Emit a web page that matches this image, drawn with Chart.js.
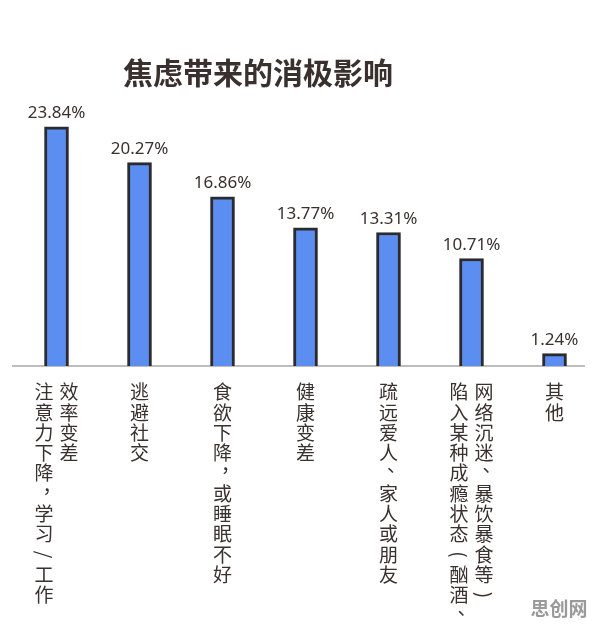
<!DOCTYPE html>
<html>
<head>
<meta charset="utf-8">
<script src="https://cdn.jsdelivr.net/npm/chart.js@4.4.1/dist/chart.umd.min.js"></script>
<style>
  html, body { margin: 0; padding: 0; background: #fff; }
</style>
</head>
<body>
<canvas id="anxietyChart" width="596" height="628"></canvas>
<script>
// 数据
const chartTitle = '焦虑带来的消极影响';
const categories = [
  '注意力下降，学习/工作效率变差',
  '逃避社交',
  '食欲下降，或睡眠不好',
  '健康变差',
  '疏远爱人、家人或朋友',
  '陷入某种成瘾状态(酗酒、网络沉迷、暴饮暴食等)',
  '其他'
];
// 竖排标签，每列一个字符串（从左到右）
const labelColumns = [
  ['注意力下降，学习/工作', '效率变差'],
  ['逃避社交'],
  ['食欲下降，或睡眠不好'],
  ['健康变差'],
  ['疏远爱人、家人或朋友'],
  ['陷入某种成瘾状态(酗酒、', '网络沉迷、暴饮暴食等)'],
  ['其他']
];
const values = [23.84, 20.27, 16.86, 13.77, 13.31, 10.71, 1.24];
const watermark = '思创网';

const textColor = '#3a302d';
const cjkFont = '"Noto Sans CJK SC", sans-serif';

// 底部基线
const baselinePlugin = {
  id: 'baseline',
  beforeDatasetsDraw(chart) {
    const ctx = chart.ctx;
    const y = chart.chartArea.bottom;
    ctx.save();
    ctx.strokeStyle = '#bdbdbd';
    ctx.lineWidth = 2;
    ctx.beginPath();
    ctx.moveTo(12, y);
    ctx.lineTo(585, y);
    ctx.stroke();
    ctx.restore();
  }
};

// 柱顶数值
const valueLabelPlugin = {
  id: 'valueLabels',
  afterDatasetsDraw(chart) {
    const ctx = chart.ctx;
    const meta = chart.getDatasetMeta(0);
    ctx.save();
    ctx.fillStyle = textColor;
    ctx.font = '17px "Noto Sans", sans-serif';
    ctx.textAlign = 'center';
    ctx.textBaseline = 'bottom';
    meta.data.forEach((bar, i) => {
      ctx.fillText(values[i].toFixed(2) + '%', bar.x, bar.y - 5);
    });
    ctx.restore();
  }
};

// 标题、竖排分类标签、水印
const textPlugin = {
  id: 'texts',
  afterDraw(chart) {
    const ctx = chart.ctx;
    const xScale = chart.scales.x;
    ctx.save();

    // 标题
    ctx.fillStyle = textColor;
    ctx.font = 'bold 30px ' + cjkFont;
    ctx.textAlign = 'center';
    ctx.textBaseline = 'middle';
    ctx.fillText(chartTitle, 258, 73);

    // 竖排标签
    const rotateChars = '/()（）';
    const punctChars = '，、';
    ctx.font = '19px ' + cjkFont;
    labelColumns.forEach((cols, i) => {
      const cx = xScale.getPixelForValue(i);
      const colGap = 25;
      const startX = cx - (cols.length - 1) * colGap / 2;
      cols.forEach((col, c) => {
        const x = startX + c * colGap;
        Array.from(col).forEach((ch, k) => {
          const y = 392 + k * 20.3;
          if (rotateChars.includes(ch)) {
            ctx.save();
            ctx.translate(x, y);
            ctx.rotate(Math.PI / 2);
            ctx.fillText(ch, 0, 0);
            ctx.restore();
          } else if (punctChars.includes(ch)) {
            // 竖排标点移到右上角
            ctx.fillText(ch, x + 8, y - 8);
          } else {
            ctx.fillText(ch, x, y);
          }
        });
      });
    });

    // 水印
    ctx.fillStyle = '#9a9a9a';
    ctx.font = 'bold 19px ' + cjkFont;
    ctx.fillText(watermark, 559, 609);
    ctx.restore();
  }
};

const ctx = document.getElementById('anxietyChart').getContext('2d');
new Chart(ctx, {
  type: 'bar',
  data: {
    labels: categories,
    datasets: [{
      data: values,
      backgroundColor: '#5b8ef0',
      borderColor: '#2c2a31',
      borderWidth: 3,
      barThickness: 24
    }]
  },
  options: {
    responsive: false,
    animation: false,
    layout: {
      padding: { top: 65, bottom: 262, left: 15, right: 0 }
    },
    plugins: {
      legend: { display: false },
      title: { display: false },
      tooltip: { enabled: false }
    },
    scales: {
      x: { display: false },
      y: { display: false, min: 0, max: 30 }
    }
  },
  plugins: [baselinePlugin, valueLabelPlugin, textPlugin]
});
</script>
</body>
</html>
